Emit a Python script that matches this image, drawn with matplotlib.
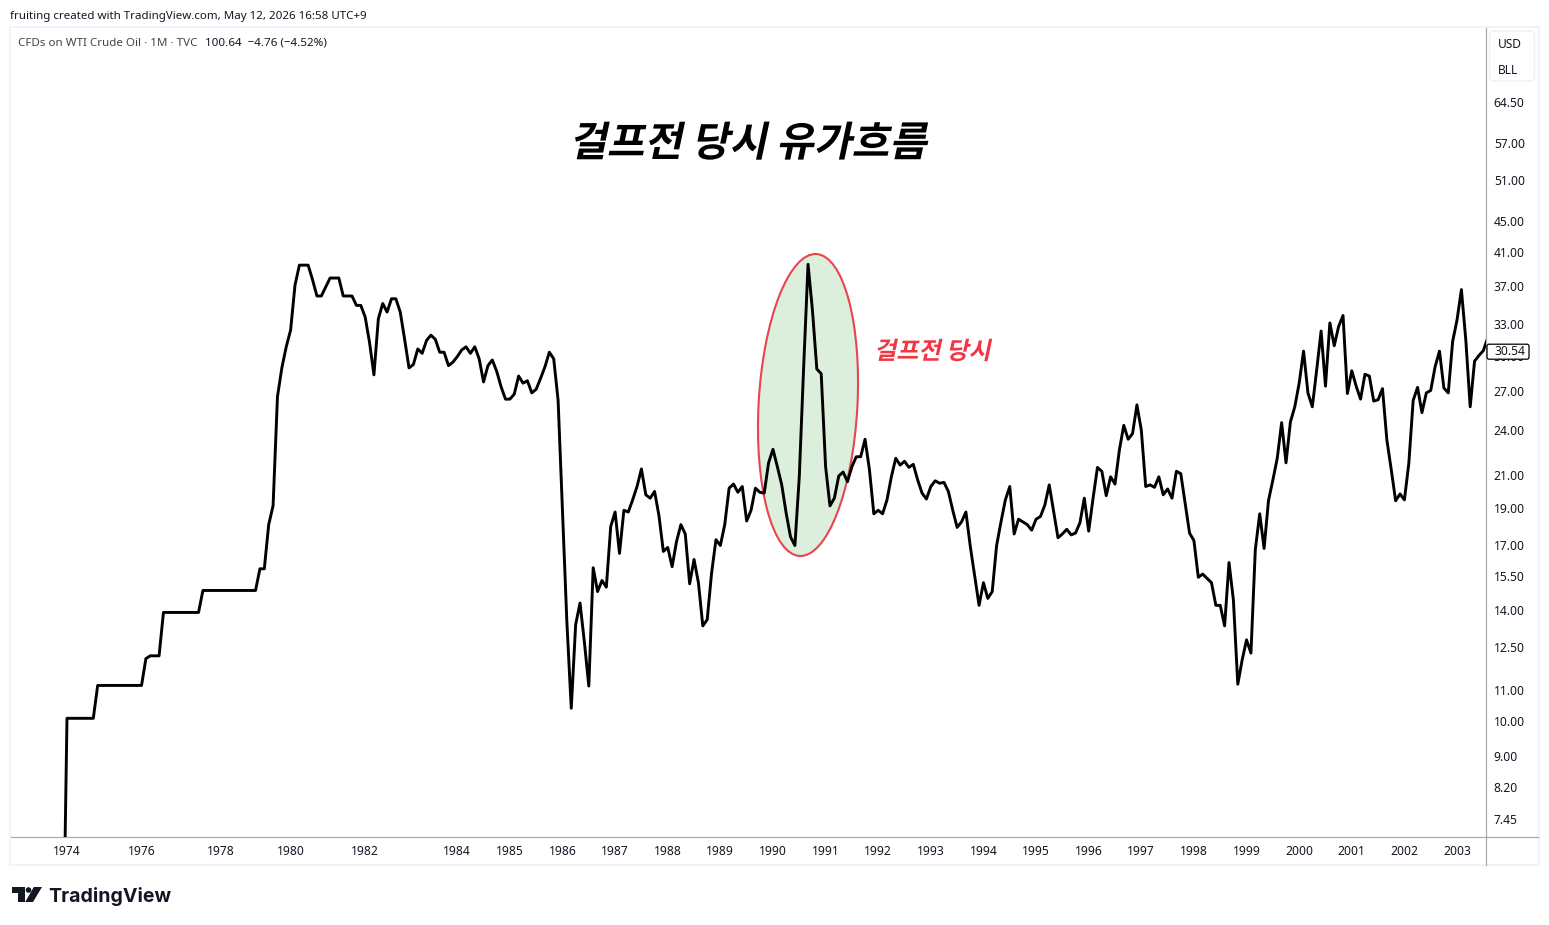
import matplotlib
matplotlib.use("Agg")
import matplotlib.pyplot as plt
import matplotlib.patheffects as pe
import numpy as np
from matplotlib.lines import Line2D
from matplotlib.patches import Ellipse, FancyBboxPatch, Polygon, Circle, Rectangle
from matplotlib.transforms import Affine2D, IdentityTransform, ScaledTranslation

W, H = 1549, 925
LATIN = ['Noto Sans', 'DejaVu Sans']
KOREAN = ['Noto Sans CJK KR', 'DejaVu Sans']
plt.rcParams['font.family'] = LATIN

# ---- data: monthly closes, one per bar (equal bar spacing as in the chart) ----
closes_1973_1979 = [4.31] + [10.11]*7 + [11.16]*11 + [12.1, 12.2, 12.2, 12.2] + [13.9]*9 + [14.85]*13 + \
    [15.85, 15.85, 18.1, 19.16]
closes_1980_1985 = [26.6, 29.0, 30.9, 32.5, 37.2, 39.5, 39.5, 39.5, 37.8, 36.0, 36.0, 37.0, 38.0, 38.0, 38.0,
    36.0, 36.0, 36.0, 35.0, 35.0, 33.8, 31.3, 28.4, 33.6, 35.2, 34.3, 35.7, 35.7, 34.3, 31.6, 29.0, 29.3,
    30.7, 30.3, 31.5, 32.0, 31.6, 30.4, 30.4, 29.2, 29.5, 30.0, 30.6, 30.9, 30.3, 30.9, 29.8, 27.8, 29.2,
    29.7, 28.7, 27.4, 26.4, 26.4, 26.8, 28.3, 27.7, 27.9, 26.9, 27.2, 28.1, 29.1, 30.4, 29.8, 26.3]
closes_1986_1989 = [18.9, 13.5, 10.42, 13.4, 14.3, 12.7, 11.14, 15.9, 14.8, 15.3, 15.0, 18.0,
    18.8, 16.6, 18.9, 18.8, 19.5, 20.3, 21.4, 19.8, 19.6, 20.0, 18.6, 16.7,
    16.9, 15.95, 17.2, 18.1, 17.6, 15.15, 16.3, 15.2, 13.35, 13.6, 15.65, 17.3,
    17.0, 18.1, 20.2, 20.45, 19.95, 20.3, 18.3, 18.9, 20.2, 19.95, 19.9, 21.8]
closes_1990_1994 = [22.7, 21.55, 20.4, 18.75, 17.45, 17.0, 20.9, 29.1, 39.6, 34.5, 28.9, 28.5,
    21.55, 19.15, 19.6, 20.95, 21.2, 20.6, 21.55, 22.2, 22.2, 23.4, 21.35, 18.7,
    18.9, 18.7, 19.5, 20.9, 22.1, 21.65, 21.9, 21.5, 21.7, 20.7, 19.9, 19.55,
    20.3, 20.65, 20.5, 20.55, 20.0, 18.9, 17.95, 18.25, 18.8, 16.95, 15.5, 14.2,
    15.2, 14.5, 14.8, 17.0, 18.25, 19.5, 20.3, 17.6, 18.4, 18.25, 18.1, 17.8]
closes_1995_1999 = [18.4, 18.55, 19.2, 20.4, 18.85, 17.4, 17.6, 17.85, 17.55, 17.65, 18.2, 19.6,
    17.75, 19.6, 21.5, 21.25, 19.75, 20.9, 20.45, 22.65, 24.4, 23.4, 23.8, 25.95,
    24.05, 20.3, 20.4, 20.25, 20.9, 19.8, 20.15, 19.6, 21.25, 21.1, 19.3, 17.65,
    17.25, 15.45, 15.6, 15.4, 15.2, 14.2, 14.2, 13.35, 16.15, 14.43, 11.2, 12.05,
    12.8, 12.3, 16.8, 18.7, 16.85, 19.45, 20.7, 22.1, 24.6, 21.8, 24.65, 25.8]
closes_2000_2003 = [27.7, 30.5, 26.9, 25.8, 28.85, 32.4, 27.45, 33.2, 31.0, 32.85, 33.95, 26.85,
    28.75, 27.45, 26.4, 28.45, 28.3, 26.25, 26.35, 27.25, 23.35, 21.35, 19.45, 19.85,
    19.5, 21.75, 26.3, 27.35, 25.35, 26.9, 27.1, 29.1, 30.5, 27.3, 26.9, 31.4,
    33.5, 36.7, 31.55, 25.8, 29.6, 30.1, 30.55, 31.75]
closes = closes_1973_1979 + closes_1980_1985 + closes_1986_1989 + closes_1990_1994 + closes_1995_1999 + closes_2000_2003

year_labels = ['1974', '1976', '1978', '1980', '1982', '1984', '1985', '1986', '1987', '1988', '1989', '1990',
               '1991', '1992', '1993', '1994', '1995', '1996', '1997', '1998', '1999', '2000', '2001', '2002', '2003']
year_bars = [1, 18, 36, 52, 69, 90, 102, 114, 126, 138, 150, 162, 174, 186, 198, 210, 222, 234, 246, 258, 270,
             282, 294, 306, 318]
price_ticks = [64.5, 57, 51, 45, 41, 37, 33, 30, 27, 24, 21, 19, 17, 15.5, 14, 12.5, 11, 10, 9, 8.2, 7.45]
last_price = 30.54

TEXT = '#131722'
AXIS = '#ababab'
BORDER = '#f0f3fa'
RED = '#f23645'


class Shear(pe.AbstractPathEffect):
    """Slants a real text artist (the CJK fonts have no italic face)."""
    def __init__(self, deg):
        super().__init__()
        self.deg = deg

    def draw_path(self, renderer, gc, tpath, affine, rgbFace=None):
        renderer.draw_path(gc, tpath, Affine2D().skew_deg(self.deg, 0) + affine, rgbFace)


fig = plt.figure(figsize=(W/100, H/100), dpi=100, facecolor='white')


def fx(x):
    return x / W


def fy(y):
    return 1 - y / H


def ptext(x, y, s, **kw):
    kw.setdefault('va', 'center')
    kw.setdefault('ha', 'left')
    kw.setdefault('color', TEXT)
    return fig.text(fx(x), fy(y), s, **kw)


L, R, T, B = 11, 1486, 28, 837
ax = fig.add_axes([fx(L), fy(B), (R-L)/W, (B-T)/H])
ax.set_yscale('log')
px_per_bar = 4.385
first_bar_px = 62.6
ax.set_xlim((L-first_bar_px)/px_per_bar, (R-first_bar_px)/px_per_bar)
ax.set_ylim(7.075, 80.6)
for s in ('top', 'left'):
    ax.spines[s].set_visible(False)
for s in ('right', 'bottom'):
    ax.spines[s].set_color(AXIS)
    ax.spines[s].set_linewidth(0.9)

ax.plot(np.arange(len(closes)), closes, color='black', lw=2.1, solid_joinstyle='round', zorder=3)

ax.set_xticks(year_bars, year_labels, fontsize=8.7, color=TEXT)
ax.tick_params(axis='x', length=0, pad=5.6)
ax.yaxis.tick_right()
ax.minorticks_off()
ax.set_yticks(price_ticks, [f'{p:.2f}' for p in price_ticks], fontsize=8.7, color=TEXT)
ax.minorticks_off()
ax.tick_params(axis='y', length=0, pad=5.6)
up_half_px = ScaledTranslation(0, 0.5/100, fig.dpi_scale_trans)
for tick in ax.yaxis.get_major_ticks():
    tick.label2.set_transform(tick.label2.get_transform() + up_half_px)

# highlighted ellipse, drawn in screen pixels as on the chart
ax.add_patch(Ellipse((808, H-405), 98.8, 302.4, angle=-3.18, transform=IdentityTransform(),
                     facecolor='#dcefdc', edgecolor='#e9444f', lw=1.5, zorder=2, clip_on=False))

# last-price tag
tag_y = ax.transData.transform((0, last_price))[1] - 1
fig.add_artist(FancyBboxPatch((1487, tag_y-7.5), 42, 15, boxstyle='round,pad=0,rounding_size=2',
                              transform=IdentityTransform(), facecolor='white', edgecolor='black', lw=0.9,
                              zorder=5))
ptext(1494, H-tag_y, f'{last_price:.2f}', fontsize=8.7, zorder=6)

# annotations
t1 = ptext(569, 144, '걸프전 당시 유가흐름', family=KOREAN, weight='bold', fontsize=29.5, color='black')
t1.set_path_effects([Shear(12)])
t2 = ptext(874, 352, '걸프전 당시', family=KOREAN, weight='bold', fontsize=17.4, color=RED)
t2.set_path_effects([Shear(12)])

# frame
fig.add_artist(Rectangle((fx(10), fy(865)), 1529/W, 838/H, transform=fig.transFigure, fill=False,
                         edgecolor=BORDER, lw=1.4))
fig.add_artist(Line2D([fx(1486), fx(1538)], [fy(837), fy(837)], color=AXIS, lw=0.9))
fig.add_artist(Line2D([fx(1486), fx(1486)], [fy(837), fy(865)], color=AXIS, lw=0.9))

# header
ptext(10, 16, 'fruiting created with TradingView.com, May 12, 2026 16:58 UTC+9', fontsize=8.3)
ptext(18, 43, 'CFDs on WTI Crude Oil · 1M · TVC', fontsize=8.35, color='#42454f')
ptext(205, 43, '100.64  −4.76 (−4.52%)', fontsize=8.35)

# currency / unit box
fig.add_artist(FancyBboxPatch((1489.5, H-81), 45, 50, boxstyle='round,pad=0,rounding_size=4',
                              transform=IdentityTransform(), facecolor='white', edgecolor=BORDER, lw=1.2))
ptext(1498, 44, 'USD', fontsize=8.6)
ptext(1498, 70, 'BLL', fontsize=8.6)

# TradingView logo and wordmark
LOGO = '#131722'
fig.add_artist(Polygon([(12, H-887), (24.5, H-887), (24.5, H-902), (18.2, H-902), (18.2, H-892.5), (12, H-892.5)],
                       closed=True, transform=IdentityTransform(), fc=LOGO, ec='none'))
fig.add_artist(Circle((28.5, H-890), 2.8, transform=IdentityTransform(), fc=LOGO, ec='none'))
fig.add_artist(Polygon([(33.8, H-887), (42, H-887), (33, H-902), (25.2, H-902)],
                       closed=True, transform=IdentityTransform(), fc=LOGO, ec='none'))
ptext(48.5, 896.5, 'TradingView', fontsize=14.1, weight='bold', family=['Inter', 'DejaVu Sans'], color=LOGO)

fig.savefig('out.png', dpi=100, facecolor='white')
